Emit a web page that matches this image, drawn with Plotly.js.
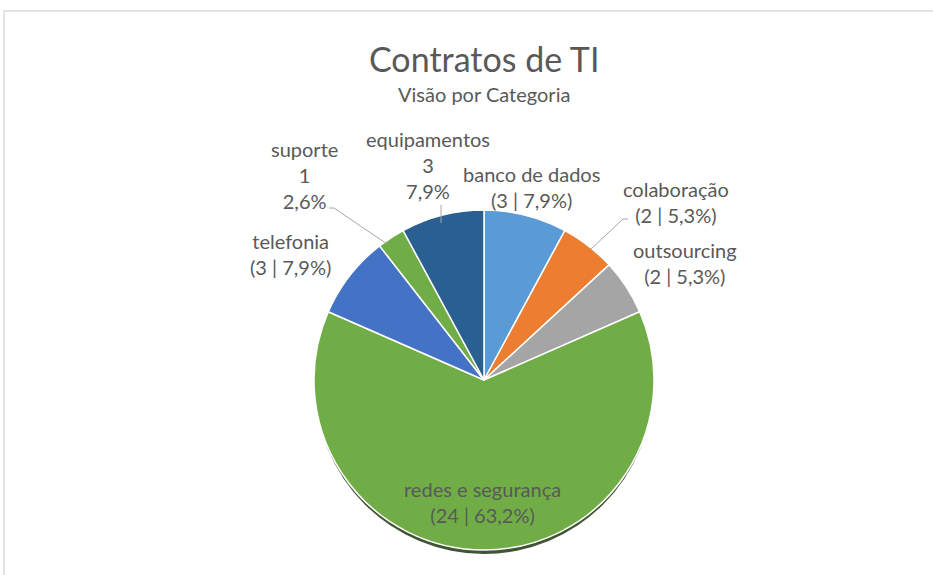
<!DOCTYPE html>
<html>
<head>
<meta charset="utf-8">
<script src="https://cdn.plot.ly/plotly-3.0.1.min.js"></script>
<style>html,body{margin:0;padding:0;background:#fff;}#chart{width:933px;height:575px;}</style>
</head>
<body>
<div id="chart"></div>
<script>
// ---- data ----
const categories = ["banco de dados", "colaboração", "outsourcing", "redes e segurança", "telefonia", "suporte", "equipamentos"];
const values = [3, 2, 2, 24, 3, 1, 3];
const chartTitle = "Contratos de TI";
const chartSubtitle = "Visão por Categoria";

// ---- style / layout ----
const W = 933, H = 575;
const colors = ["#5B9BD5", "#ED7D31", "#A5A5A5", "#70AD47", "#4472C4", "#70AD47", "#2A5F91"];
const FONT = "Lato, 'Open Sans', sans-serif";
const TXT = "#595959";
const cx = 484, cy = 380, R = 170;
// label layout: [centerX, centerY(of block), stacked format?]
const labelPos = [
  [531, 187, false],
  [676, 202, false],
  [685, 263, false],
  [482, 502, false],
  [290, 254, false],
  [304, 175, true],
  [428, 165, true]
];

const px = x => x / W;
const py = y => 1 - y / H;

const total = values.reduce((a, b) => a + b, 0);
const pctStr = v => (Math.round(v / total * 1000) / 10).toFixed(1).replace('.', ',') + '%';

const annotations = [];
categories.forEach((c, i) => {
  const [lx, ly, stacked] = labelPos[i];
  const txt = stacked
    ? c + '<br>' + values[i] + '<br>' + pctStr(values[i])
    : c + '<br>(' + values[i] + ' | ' + pctStr(values[i]) + ')';
  annotations.push({
    x: px(lx), y: py(ly), xref: 'paper', yref: 'paper',
    text: txt, showarrow: false, xanchor: 'center', yanchor: 'middle',
    align: 'center', font: {family: FONT, size: 20, color: TXT}
  });
});
annotations.push({
  x: px(cx), y: py(58), xref: 'paper', yref: 'paper', text: chartTitle,
  showarrow: false, xanchor: 'center', yanchor: 'middle',
  font: {family: FONT, size: 34, color: TXT}
});
annotations.push({
  x: px(cx), y: py(94), xref: 'paper', yref: 'paper', text: chartSubtitle,
  showarrow: false, xanchor: 'center', yanchor: 'middle',
  font: {family: FONT, size: 20, color: TXT}
});

const lineStyle = {color: '#A6A6A6', width: 1};
function pathPx(pts) {
  return pts.map((p, k) => (k ? 'L' : 'M') + px(p[0]) + ',' + py(p[1])).join(' ');
}
const shapes = [
  // chart border (top & left)
  {type: 'line', xref: 'paper', yref: 'paper', x0: px(4), x1: 1, y0: py(11), y1: py(11), line: {color: '#D9D9D9', width: 1.5}},
  {type: 'line', xref: 'paper', yref: 'paper', x0: px(4), x1: px(4), y0: py(11), y1: 0, line: {color: '#D9D9D9', width: 1.5}},
  // shadow beneath pie
  {type: 'circle', xref: 'paper', yref: 'paper', layer: 'below',
   x0: px(cx - R + 1), x1: px(cx + R - 1), y0: py(cy + R + 4), y1: py(cy - R + 4),
   fillcolor: 'rgba(55,75,40,0.95)', line: {width: 0}}
];
[
  [[441, 205], [441, 223]],
  [[329, 208], [334, 208], [387, 244]],
  [[628, 219], [623, 219], [591, 249]]
].forEach(pts => shapes.push({type: 'path', xref: 'paper', yref: 'paper', path: pathPx(pts), line: lineStyle}));

const trace = {
  type: 'pie',
  labels: categories,
  values: values,
  sort: false,
  direction: 'clockwise',
  rotation: 0,
  textinfo: 'none',
  hoverinfo: 'none',
  marker: {colors: colors, line: {color: '#FFFFFF', width: 1.5}},
  domain: {x: [px(cx - R), px(cx + R)], y: [py(cy + R), py(cy - R)]},
  showlegend: false
};

Plotly.newPlot('chart', [trace], {
  width: W, height: H,
  margin: {l: 0, r: 0, t: 0, b: 0},
  paper_bgcolor: '#FFFFFF',
  showlegend: false,
  annotations: annotations,
  shapes: shapes
}, {displayModeBar: false, staticPlot: true});
</script>
</body>
</html>
